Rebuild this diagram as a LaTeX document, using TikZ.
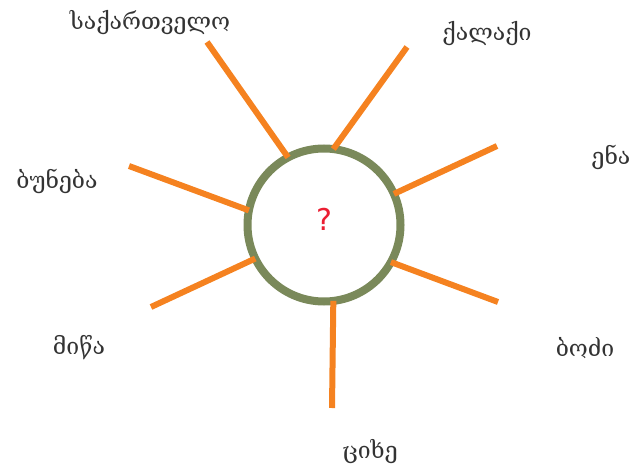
\documentclass[tikz,border=0pt]{standalone}
\usepackage{fontspec}
\newfontfamily\geofont{DejaVu Serif}
\newfontfamily\qfont{DejaVu Sans}
\definecolor{rayorange}{RGB}{245,130,32}
\definecolor{ringgreen}{RGB}{122,137,90}
\definecolor{qred}{RGB}{235,30,50}

\begin{document}
\begin{tikzpicture}[x=1pt,y=-1pt,
 ray/.style={draw=rayorange,line width=6pt},
 word/.style={font=\geofont\fontsize{23}{26}\selectfont,text=black!80,inner sep=0pt}]
\useasboundingbox (0,0) rectangle (631,465);
\node[circle,draw=ringgreen,line width=8pt,minimum size=153pt,inner sep=0pt,outer sep=0pt,fill=white] (c) at (324,225) {};
\node[font=\qfont\fontsize{30}{32}\selectfont,text=qred] (q) at (324,219) {?};
% outer ends of the rays
\coordinate (r1) at (207,42);
\coordinate (r2) at (407,47);
\coordinate (r3) at (497,146);
\coordinate (r4) at (129,166);
\coordinate (r5) at (151,307);
\coordinate (r6) at (498,302);
\coordinate (r7) at (332,408);
\foreach \r/\a in {r1/118,r2/83,r3/24,r4/169,r5/206,r6/-29,r7/-83}
  \draw[ray] (\r) -- (c.\a);
\node[word] (w1) at (150,23) {საქართველო};
\node[word] (w2) at (487,34) {ქალაქი};
\node[word] (w3) at (611,157) {ენა};
\node[word] (w4) at (57,181) {ბუნება};
\node[word] (w5) at (79,348) {მიწა};
\node[word] (w6) at (585,348) {ბოძი};
\node[word] (w7) at (370,452) {ციხე};
\end{tikzpicture}
\end{document}
